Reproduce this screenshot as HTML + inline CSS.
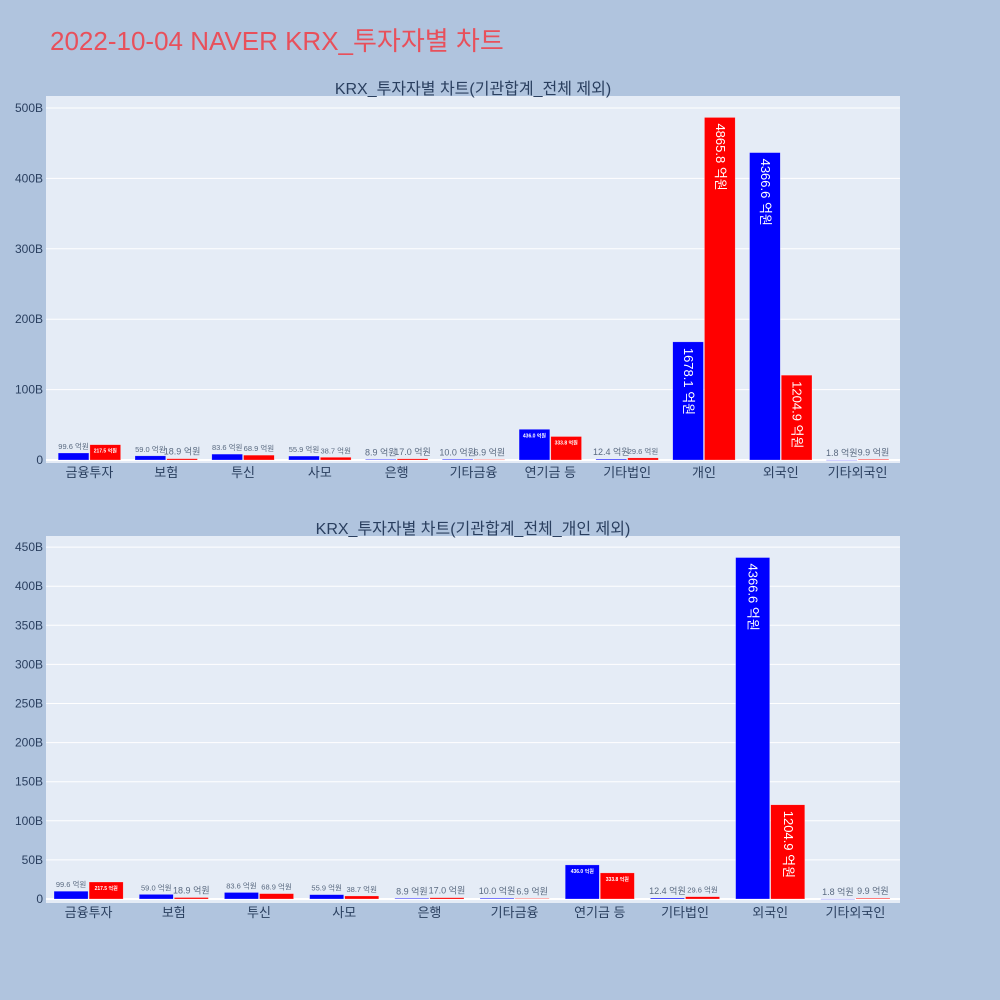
<!DOCTYPE html>
<html><head><meta charset="utf-8"><style>
body{margin:0;background:#b0c4de;}
svg{display:block;font-family:"Liberation Sans","Noto Sans CJK KR",sans-serif;}
</style></head><body>
<svg id="s" width="1000" height="1000">
<rect width="1000" height="1000" fill="#b0c4de"/>
<text x="50" y="50" font-size="26" fill="#e8505b">2022-10-04 NAVER KRX_투자자별 차트</text>
</svg>
<script>
const cats1=["금융투자","보험","투신","사모","은행","기타금융","연기금 등","기타법인","개인","외국인","기타외국인"];
const buy1=[99.6,59.0,83.6,55.9,8.9,10.0,436.0,12.4,1678.1,4366.6,1.8];
const sell1=[217.5,18.9,68.9,38.7,17.0,6.9,333.8,29.6,4865.8,1204.9,9.9];
const ticks1=[0,100,200,300,400,500];
const cats2=["금융투자","보험","투신","사모","은행","기타금융","연기금 등","기타법인","외국인","기타외국인"];
const buy2=[99.6,59.0,83.6,55.9,8.9,10.0,436.0,12.4,4366.6,1.8];
const sell2=[217.5,18.9,68.9,38.7,17.0,6.9,333.8,29.6,1204.9,9.9];
const ticks2=[0,50,100,150,200,250,300,350,400,450];
const svg=document.getElementById('s');
const NS='http://www.w3.org/2000/svg';
function mk(tag,attrs,txt){const e=document.createElementNS(NS,tag);for(const k in attrs)e.setAttribute(k,attrs[k]);if(txt!==undefined)e.textContent=txt;svg.appendChild(e);return e;}
function panel(p,cats,buy,sell,ticks,title){
  let r=mk('rect',{x:p.bx0,y:p.y0,width:p.bx1-p.bx0,height:p.y1-p.y0,fill:'#e5ecf6'});
  
  let t=mk('text',{x:473,y:p.y0-2,'font-size':16,fill:'#2a3f5f','text-anchor':'middle'},title);
  
  const yS=v=>p.zero-(v/10)*p.k; // v in 억원 -> B
  ticks.forEach(tv=>{const y=p.zero-tv*p.k;
    let l=mk('line',{x1:p.bx0,x2:p.bx1,y1:y,y2:y,stroke:'#fff','stroke-width':tv===0?2:1});
    
    let tt=mk('text',{x:p.bx0-3,y:y+4,'font-size':12,fill:'#2a3f5f','text-anchor':'end'},tv===0?'0':tv+'B');
    });
  const n=cats.length,step=(p.x1-p.x0)/n,bw=step*0.4;
  cats.forEach((c,i)=>{const cx=p.x0+step*(i+0.5);
    let ct=mk('text',{x:cx,y:p.y1+14,'font-size':13,fill:'#2a3f5f','text-anchor':'middle'},c);
    
    [[buy[i],'#0000ff',cx-bw-0.5,'buy'],[sell[i],'#ff0000',cx+0.5,'sell']].forEach(([v,col,x,nm])=>{
      const y=yS(v),h=p.zero-y;
      let b=mk('rect',{x:x,y:y,width:bw,height:Math.max(h,0.5),fill:col,stroke:'rgba(255,255,255,0.5)','stroke-width':0.5});
      
      const lab=v.toFixed(1)+' 억원';let lt;
      if(h>60){lt=mk('text',{x:x+bw/2-4,y:y+6,'font-size':13,fill:'#fff',transform:`rotate(90 ${x+bw/2-4} ${y+6})`},lab);}
      else if(h>12){lt=mk('text',{x:x+bw/2,y:y+8,'font-size':5,'font-weight':'bold',fill:'#fff','text-anchor':'middle'},lab);}
      else{const fs=h<2?9:7.5;lt=mk('text',{x:x+bw/2,y:y-4,'font-size':fs,fill:'#5a6a80','text-anchor':'middle'},lab);}
      
    });});
}
panel({id:'top',bx0:46,bx1:900,x0:51,x1:896,y0:96,y1:463,zero:460,k:0.704},cats1,buy1,sell1,ticks1,'KRX_투자자별 차트(기관합계_전체 제외)');
panel({id:'bottom',bx0:46,bx1:900,x0:46,x1:898,y0:536,y1:903,zero:899,k:0.782},cats2,buy2,sell2,ticks2,'KRX_투자자별 차트(기관합계_전체_개인 제외)');
</script>
</body></html>
